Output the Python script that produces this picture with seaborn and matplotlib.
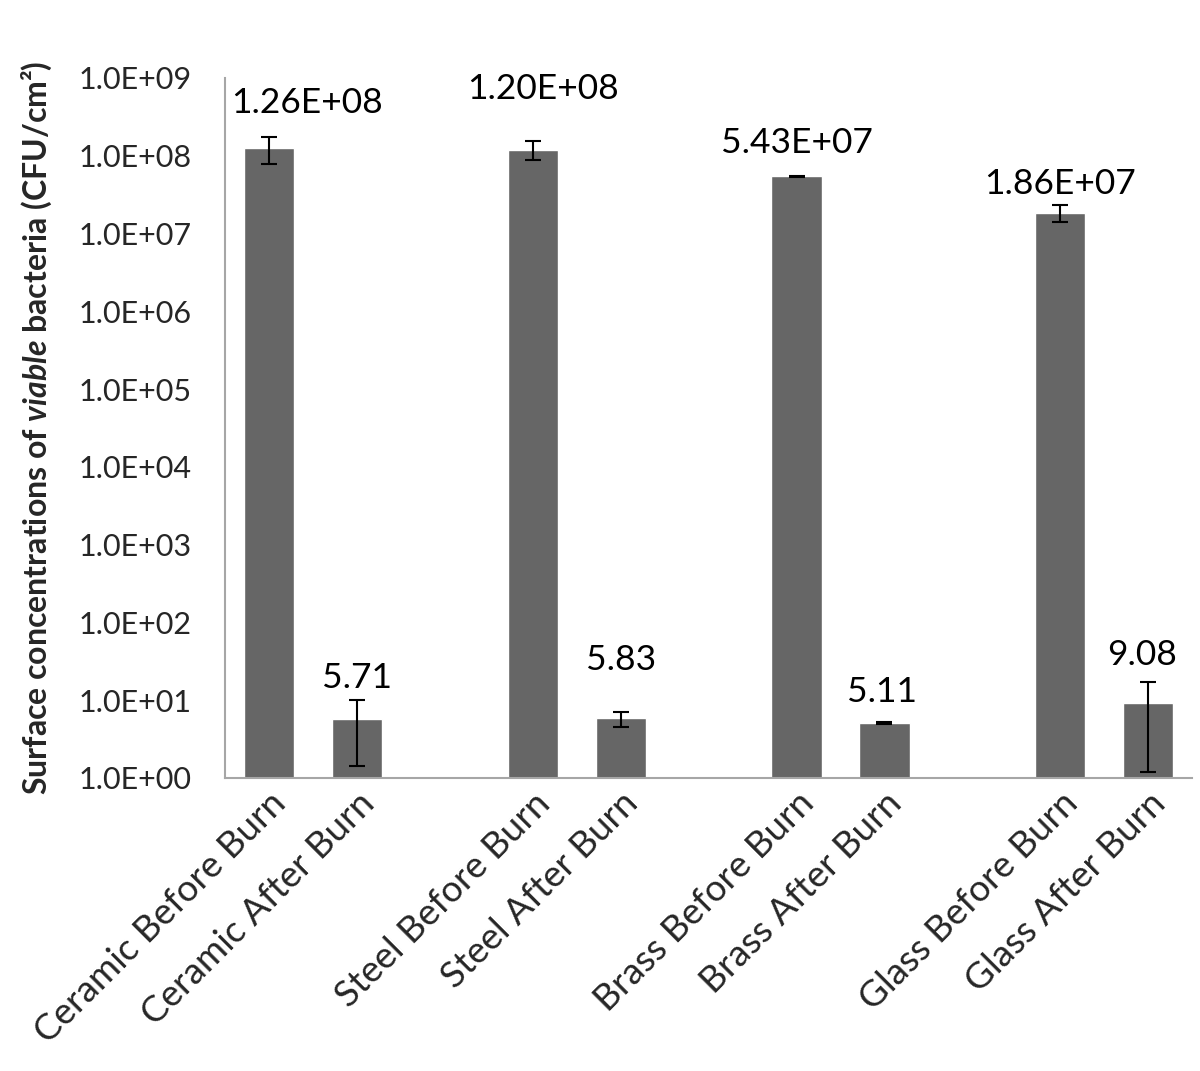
import matplotlib
matplotlib.use("Agg")
import matplotlib.pyplot as plt
import matplotlib.ticker as mticker
import seaborn as sns
import pandas as pd

# bar categories in plot order (blank slots separate the materials)
categories = ["Ceramic Before Burn", "Ceramic After Burn",
              "Steel Before Burn", "Steel After Burn",
              "Brass Before Burn", "Brass After Burn",
              "Glass Before Burn", "Glass After Burn"]
means = [1.26e8, 5.71, 1.20e8, 5.83, 5.43e7, 5.11, 1.86e7, 9.08]
errors = [4.7e7, 4.3, 3.3e7, 1.3, 1.0e6, 0.15, 4.5e6, 7.9]
labels = ["1.26E+08", "5.71", "1.20E+08", "5.83",
          "5.43E+07", "5.11", "1.86E+07", "9.08"]
# offset (x, y) of each value label from its bar top (pixels)
label_dx = [38, 0, 10, 0, 0, -2, 0, -6]
label_dy = [45, 41, 61, 58, 33, 31, 29, 48]

order = ["Ceramic Before Burn", "Ceramic After Burn", "gap1",
         "Steel Before Burn", "Steel After Burn", "gap2",
         "Brass Before Burn", "Brass After Burn", "gap3",
         "Glass Before Burn", "Glass After Burn"]

df = pd.DataFrame({"Sample": categories, "CFU": means})

sns.set_style("white")
plt.rcParams["font.family"] = ["Lato", "DejaVu Sans"]
plt.rcParams["mathtext.fontset"] = "custom"
plt.rcParams["mathtext.rm"] = "Lato"
plt.rcParams["mathtext.bf"] = "Lato:bold"
plt.rcParams["mathtext.bfit"] = "Lato:italic:bold"

fig = plt.figure(figsize=(12, 10.71), dpi=100)
ax = fig.add_axes([0.1875, 0.2736, 0.806, 0.6536])

sns.barplot(data=df, x="Sample", y="CFU", order=order, color="#666666",
            saturation=1, width=0.57, errorbar=None, ax=ax)
ax.set_yscale("log")
ax.set_ylim(1, 1e9)
ax.set_xlim(-0.5, len(order) - 0.5)

# error bars and value labels at the bar positions
pos = {name: i for i, name in enumerate(order)}
xs = [pos[c] for c in categories]
ax.errorbar(xs, means, yerr=errors, fmt="none", ecolor="black",
            elinewidth=1.5, capsize=6, capthick=1.5)
for x, m, lab, dx, dy in zip(xs, means, labels, label_dx, label_dy):
    ax.annotate(lab, xy=(x, m), xytext=(dx, dy), textcoords="offset pixels",
                ha="center", va="center", fontsize=25.5, color="black")

ax.yaxis.set_major_locator(mticker.LogLocator(base=10, numticks=20))
ax.yaxis.set_minor_locator(mticker.NullLocator())
ax.yaxis.set_major_formatter(mticker.FuncFormatter(lambda v, p: f"{v:.1E}"))
ax.tick_params(axis="y", labelsize=22, length=0, pad=24)
ax.tick_params(axis="x", labelsize=26.5, length=0, pad=6)

ax.set_xticks(range(len(order)))
ax.set_xticklabels([c if not c.startswith("gap") else "" for c in order],
                   rotation=45, ha="right", rotation_mode="anchor")
ax.set_xlabel("")
ax.set_ylabel(r"Surface concentrations of $\mathbfit{viable}$ bacteria (CFU/cm²)",
              fontsize=23, fontweight="bold", labelpad=18)

for s in ["top", "right"]:
    ax.spines[s].set_visible(False)
for s in ["left", "bottom"]:
    ax.spines[s].set_color("#a6a6a6")
    ax.spines[s].set_linewidth(1.5)

fig.savefig("out.png", dpi=100)
